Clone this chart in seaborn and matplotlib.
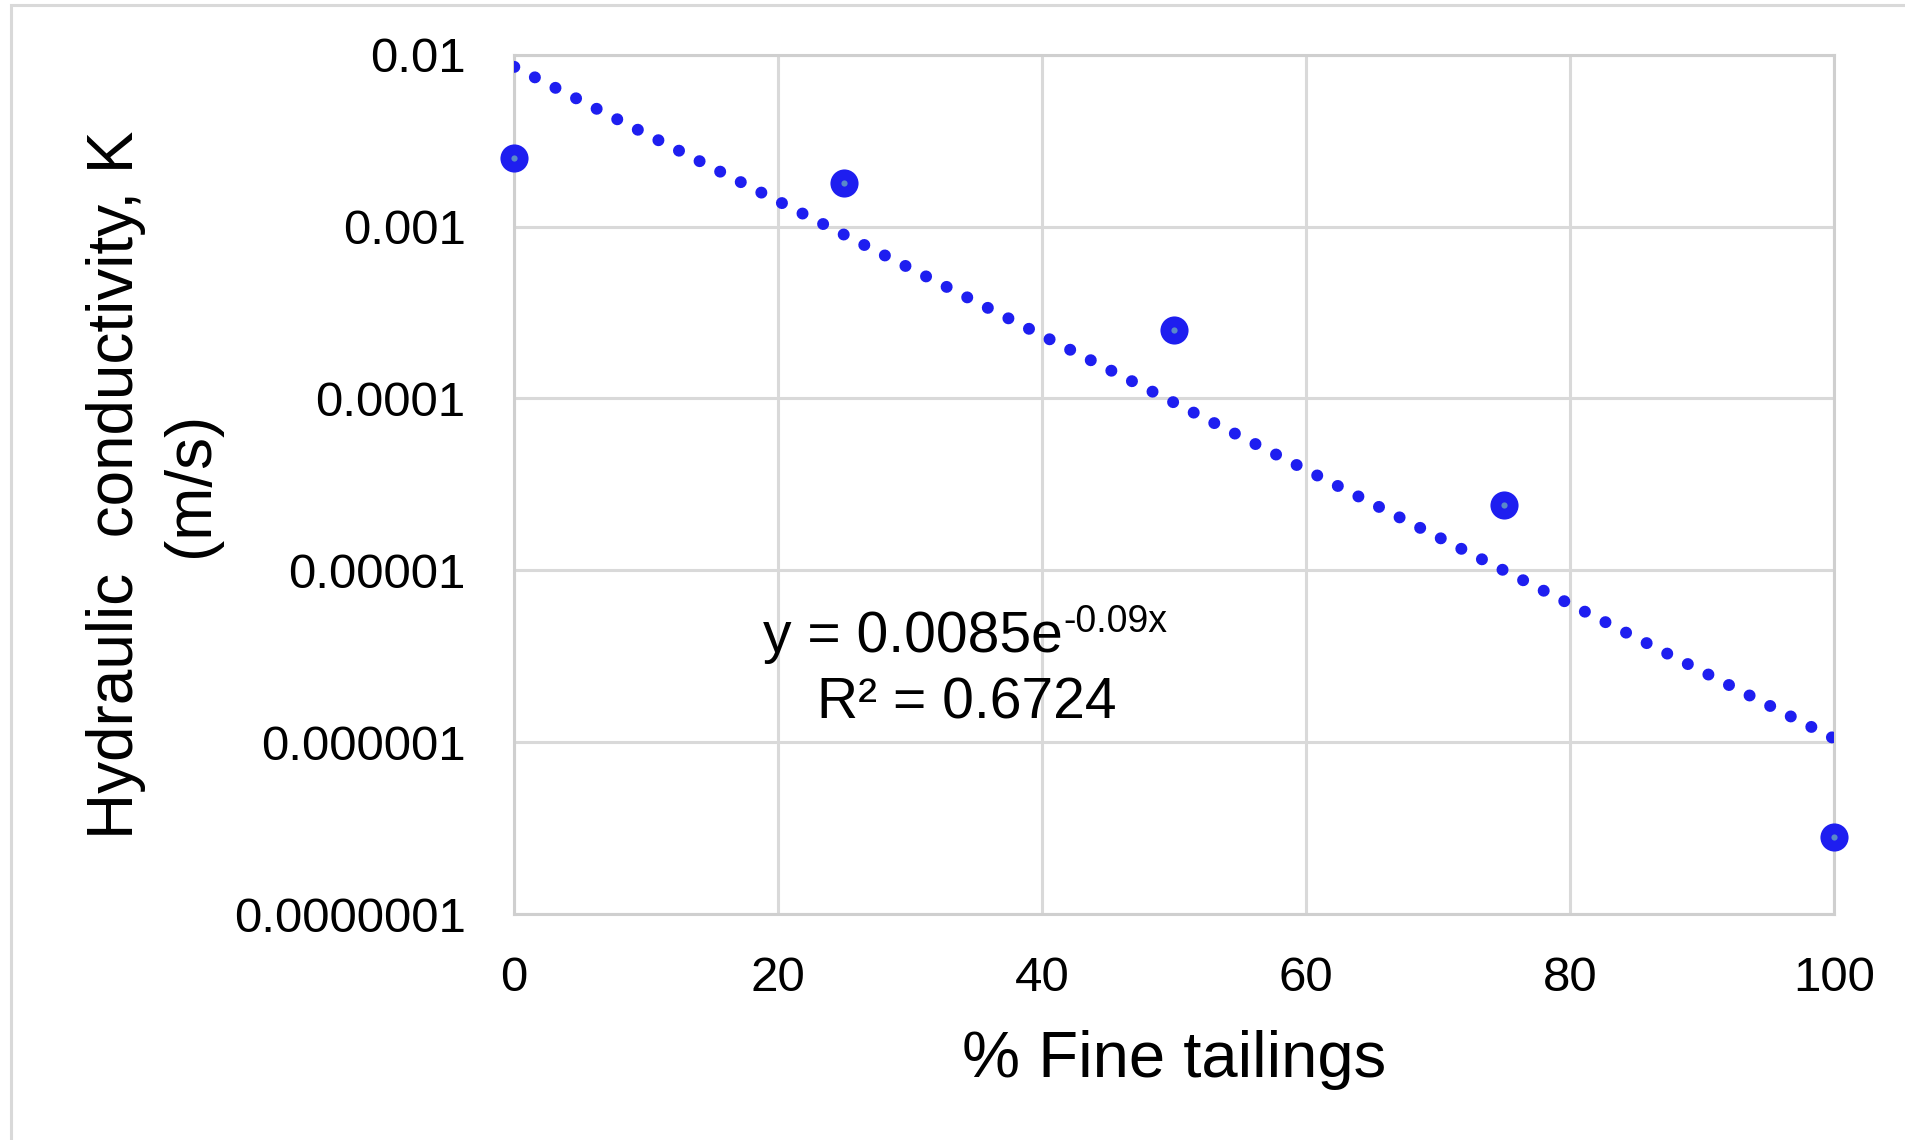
import numpy as np
import pandas as pd
import matplotlib
matplotlib.use("Agg")
import matplotlib.pyplot as plt
from matplotlib.patches import Rectangle
import seaborn as sns

# Data
fine_pct = [0, 25, 50, 75, 100]
hyd_k = [0.0025, 0.0018, 0.00025, 0.000024, 0.00000028]

# Excel trendline shown on the chart: y = a * exp(b x)
trend_a = 0.0085
trend_b = -0.09
trend_x = np.linspace(0, 100, 201)

y_ticks = [1e-7, 1e-6, 1e-5, 1e-4, 1e-3, 1e-2]
y_tick_labels = ["0.0000001", "0.000001", "0.00001", "0.0001", "0.001", "0.01"]
x_ticks = [0, 20, 40, 60, 80, 100]

blue = "#1e1ef0"
grid_col = "#d9d9d9"

sns.set_theme(style="whitegrid")
plt.rcParams["font.family"] = ["Liberation Sans", "DejaVu Sans"]
plt.rcParams["text.color"] = "black"

df = pd.DataFrame({"x": fine_pct, "k": hyd_k})
trend_df = pd.DataFrame({"x": trend_x, "k": trend_a * np.exp(trend_b * trend_x)})

fig = plt.figure(figsize=(19.06, 11.40), dpi=100)
ax = fig.add_axes([0.2698, 0.1982, 0.9624 - 0.2698, 0.952 - 0.1982])

# dotted trendline
sns.lineplot(data=trend_df, x="x", y="k", ax=ax, color=blue, lw=8.6,
             linestyle=(0, (0.01, 1.924)), dash_capstyle="round", zorder=3)
# data points
sns.scatterplot(data=df, x="x", y="k", ax=ax, color=blue, s=410,
                edgecolor=blue, linewidth=0, zorder=4, clip_on=False)
sns.scatterplot(data=df, x="x", y="k", ax=ax, color="#5a8ac8", s=20,
                linewidth=0, zorder=5, clip_on=False)

ax.set_yscale("log")
ax.set_xlim(0, 100)
ax.set_ylim(1e-7, 1e-2)
ax.set_yticks(y_ticks)
ax.set_yticklabels(y_tick_labels)
ax.set_xticks(x_ticks)
ax.yaxis.set_minor_locator(matplotlib.ticker.NullLocator())
ax.tick_params(axis="both", length=0, labelsize=35.5, colors="black")
ax.tick_params(axis="y", pad=35)
ax.tick_params(axis="x", pad=30)
ax.grid(True, color=grid_col, lw=2.2)
for sp in ax.spines.values():
    sp.set_color("#cfcfcf")
    sp.set_linewidth(2.2)

ax.set_xlabel("% Fine tailings", fontsize=47, color="black")
ax.set_ylabel("Hydraulic  conductivity, K\n(m/s)", fontsize=46, color="black",
              multialignment="center", linespacing=1.32)
ax.xaxis.set_label_coords(0.5, -0.135)
ax.yaxis.set_label_coords(-0.222, 0.5)

# trendline equation
ax.text(0.4157, 0.305, "y = 0.0085e", transform=ax.transAxes, fontsize=41,
        ha="right", va="baseline", color="black")
ax.text(0.4157, 0.328, "-0.09x", transform=ax.transAxes, fontsize=27,
        ha="left", va="baseline", color="black")
ax.text(0.343, 0.228, "R² = 0.6724", transform=ax.transAxes, fontsize=41,
        ha="center", va="baseline", color="black")

# light frame round the chart area
fig.add_artist(Rectangle((11.5 / 1906, -0.1), 1.2, 1.1 - 5.5 / 1140,
                         transform=fig.transFigure, fill=False,
                         edgecolor=grid_col, lw=2.2, clip_on=False))

fig.savefig("out.png", dpi=100)
